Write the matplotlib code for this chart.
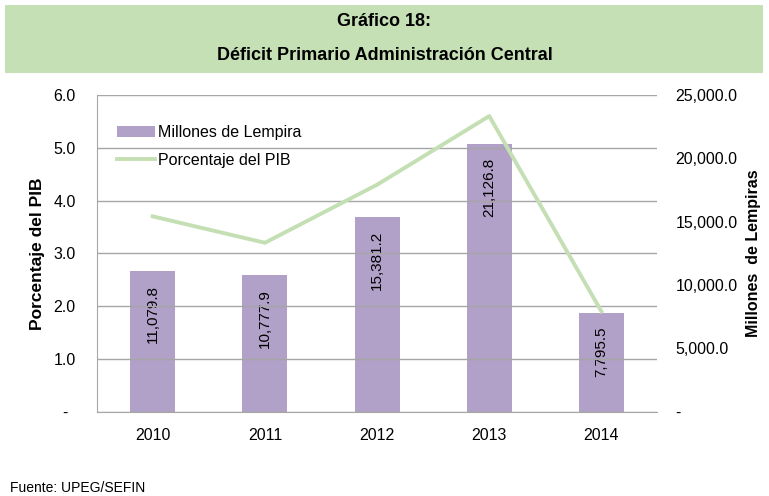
import matplotlib.pyplot as plt
import matplotlib.patches as mpatches
from matplotlib.ticker import FuncFormatter

plt.rcParams['font.family'] = ['Liberation Sans Narrow', 'Liberation Sans', 'DejaVu Sans']

years = ['2010', '2011', '2012', '2013', '2014']
millones = [11079.8, 10777.9, 15381.2, 21126.8, 7795.5]
porcentaje = [3.7, 3.2, 4.3, 5.6, 1.9]
bar_labels = ['11,079.8', '10,777.9', '15,381.2', '21,126.8', '7,795.5']

bar_color = '#b1a0c7'
line_color = '#c4dfb3'
grid_color = '#a6a6a6'

fig = plt.figure(figsize=(7.69, 4.96), dpi=100)

# green title banner
fig.patches.append(mpatches.Rectangle((5 / 769, 1 - 73 / 496), 758 / 769, 68 / 496,
                                      transform=fig.transFigure, facecolor='#c5e0b4',
                                      edgecolor='none', zorder=0))
fig.text(0.5, 1 - 22 / 496, 'Gráfico 18:', ha='center', va='center',
         fontsize=13, fontweight='bold')
fig.text(0.5, 1 - 55 / 496, 'Déficit Primario Administración Central', ha='center',
         va='center', fontsize=13, fontweight='bold')

ax = fig.add_axes([0.1257, 0.170, 0.7293, 0.6385])
ax2 = ax.twinx()

x = range(len(years))

# bars on the right axis, line on the left axis
bars = ax2.bar(x, millones, width=0.4, color=bar_color, zorder=2, label='Millones de Lempira')
ax2.set_ylim(0, 25000)
ax2.set_yticks([0, 5000, 10000, 15000, 20000, 25000])
ax2.yaxis.set_major_formatter(FuncFormatter(lambda v, p: '-' if v == 0 else f'{v:,.1f}'))

for xi, v, lab in zip(x, millones, bar_labels):
    ax2.annotate(lab, (xi, v), xytext=(0, -10), textcoords='offset points',
                 rotation=90, ha='center', va='top', fontsize=11)

ax.set_ylim(0, 6)
ax.set_yticks([0, 1, 2, 3, 4, 5, 6])
ax.yaxis.set_major_formatter(FuncFormatter(lambda v, p: '-' if v == 0 else f'{v:.1f}'))
ax.set_xlim(-0.5, 4.5)
ax.set_xticks(list(x))
ax.set_xticklabels(years)
ax.yaxis.grid(True, color=grid_color, linewidth=1)
ax.set_axisbelow(True)

ax.set_zorder(ax2.get_zorder() + 1)
ax.patch.set_visible(False)
ln, = ax.plot(x, porcentaje, color=line_color, linewidth=2.8, zorder=3,
              label='Porcentaje del PIB')

for a in (ax, ax2):
    a.spines['top'].set_visible(False)
    a.spines['right'].set_visible(False)
    a.tick_params(length=0, labelsize=11.5)
ax.spines['left'].set_color(grid_color)
ax.spines['bottom'].set_color(grid_color)
ax2.spines['left'].set_visible(False)
ax2.spines['bottom'].set_visible(False)
ax.tick_params(axis='y', pad=23)
for t in ax.get_yticklabels():
    t.set_horizontalalignment('center')
ax.tick_params(axis='x', pad=12)
ax2.tick_params(axis='y', pad=13)

ax.set_ylabel('Porcentaje del PIB', fontsize=12.5, fontweight='bold', labelpad=6)
ax2.set_ylabel('Millones  de Lempiras', fontsize=11.5, fontweight='bold',
               family=['Liberation Sans', 'DejaVu Sans'], labelpad=6)

ax.legend([bars, ln], ['Millones de Lempira', 'Porcentaje del PIB'], loc='upper left',
          bbox_to_anchor=(0.01, 0.95), frameon=False, fontsize=11.5,
          handlelength=2.4, handletextpad=0.2, labelspacing=0.8)

fig.text(10 / 769, 1 - 488 / 496, 'Fuente: UPEG/SEFIN', fontsize=10, va='center')

fig.savefig('out.png', dpi=100)
